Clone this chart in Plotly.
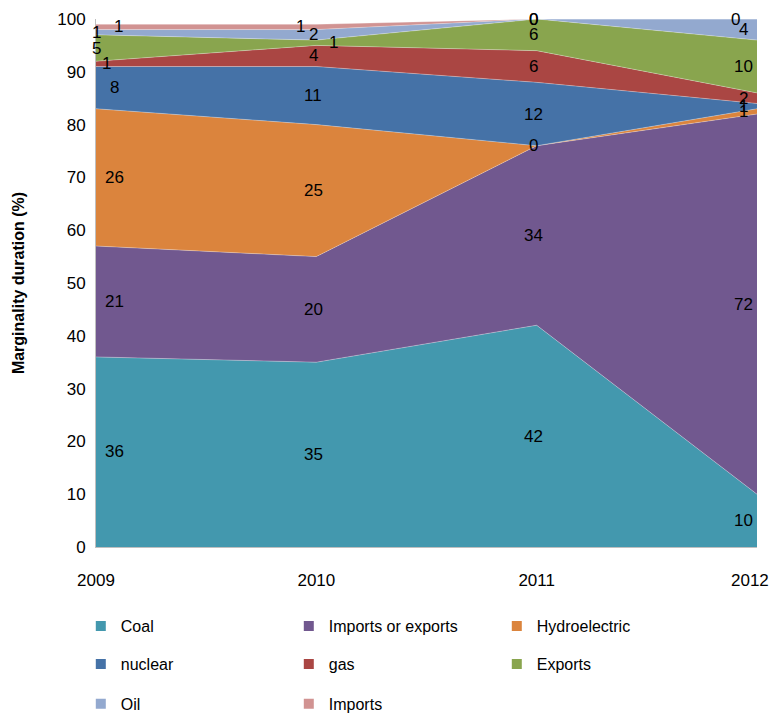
import plotly.graph_objects as go

years = [2009, 2010, 2011, 2012]
year_labels = ["2009", "2010", "2011", "2012&nbsp;&nbsp;&nbsp;"]

series_names = ["Coal", "Imports or exports", "Hydroelectric", "nuclear",
                "gas", "Exports", "Oil", "Imports"]
coal = [36, 35, 42, 10]
imports_or_exports = [21, 20, 34, 72]
hydroelectric = [26, 25, 0, 1]
nuclear = [8, 11, 12, 1]
gas = [1, 4, 6, 2]
exports = [5, 1, 6, 10]
oil = [1, 2, 0, 4]
imports = [1, 1, 0, 0]

colors = ["#4398AE", "#71588F", "#DB843D", "#4572A7",
          "#AA4643", "#89A54E", "#93A9CF", "#D19392"]

FONT = "Liberation Sans Narrow, Liberation Sans, Arial, sans-serif"
FS = 17

all_values = [coal, imports_or_exports, hydroelectric, nuclear,
              gas, exports, oil, imports]

fig = go.Figure()

# stacked areas (no legend entries, legend is done with square markers below)
for name, vals, col in zip(series_names, all_values, colors):
    fig.add_trace(go.Scatter(
        x=years, y=vals, name=name, stackgroup="one", mode="lines",
        line=dict(width=0.6, color="rgba(255,255,255,0.5)"),
        fillcolor=col, showlegend=False, hoverinfo="x+y+name",
    ))

# legend rows like the excel legend, 3 entries per row
legend_rows = ["legend", "legend", "legend", "legend2", "legend2", "legend2",
               "legend3", "legend3"]
for name, col, lg in zip(series_names, colors, legend_rows):
    fig.add_trace(go.Scatter(
        x=[None], y=[None], mode="markers", name=name, legend=lg,
        marker=dict(symbol="square", size=10, color=col),
    ))

# excel moved some of the crowded labels sideways a bit
nudges = {("Imports", 0): 4, ("Oil", 0): -18, ("Exports", 0): -18,
          ("gas", 0): -8, ("Imports", 1): -13, ("Exports", 1): 20,
          ("Imports", 3): -8}

# data labels in the middle of each band
base = [0, 0, 0, 0]
for name, vals in zip(series_names, all_values):
    for i, yr in enumerate(years):
        mid = base[i] + vals[i] / 2
        if i == 0:
            shift = 18
        elif i == len(years) - 1:
            shift = -14
        else:
            shift = -3
        shift += nudges.get((name, i), 0)
        fig.add_annotation(x=yr, y=mid, text=str(vals[i]), showarrow=False,
                           xshift=shift, font=dict(size=FS, color="#000000"))
    base = [b + v for b, v in zip(base, vals)]

fig.update_xaxes(
    range=[2009, 2012], tickvals=years, ticktext=year_labels,
    showline=True, linecolor="#BFBFBF", linewidth=1, showgrid=False,
    zeroline=False, ticks="", ticklabelstandoff=18, ticklabeloverflow="allow",
    tickfont=dict(size=FS, color="#000000"),
)
fig.update_yaxes(
    range=[0, 100], dtick=10, showline=True, linecolor="#BFBFBF", linewidth=1,
    showgrid=False, zeroline=False, ticks="", ticklabelstandoff=6,
    tickfont=dict(size=FS, color="#000000"),
    title=dict(text="<b>Marginality duration (%)</b>",
               font=dict(size=16, color="#000000"), standoff=28),
)

leg_style = dict(orientation="h", x=-0.023, xanchor="left", yanchor="middle",
                 entrywidth=163, entrywidthmode="pixels", traceorder="normal",
                 font=dict(size=16, color="#000000", family=FONT),
                 bgcolor="rgba(0,0,0,0)", itemwidth=30)

fig.update_layout(
    width=773, height=718,
    margin=dict(l=96, r=16, t=19, b=171, autoexpand=False),
    paper_bgcolor="white", plot_bgcolor="white",
    font=dict(family=FONT, color="#000000"),
    showlegend=True,
    legend=dict(leg_style, y=-0.150),
    legend2=dict(leg_style, y=-0.222),
    legend3=dict(leg_style, y=-0.297),
)

# page has a default 8px body margin which pushes the chart off the window
fig.write_html("out.html", config={"displayModeBar": False},
               post_script="document.body.style.margin='0px';")
